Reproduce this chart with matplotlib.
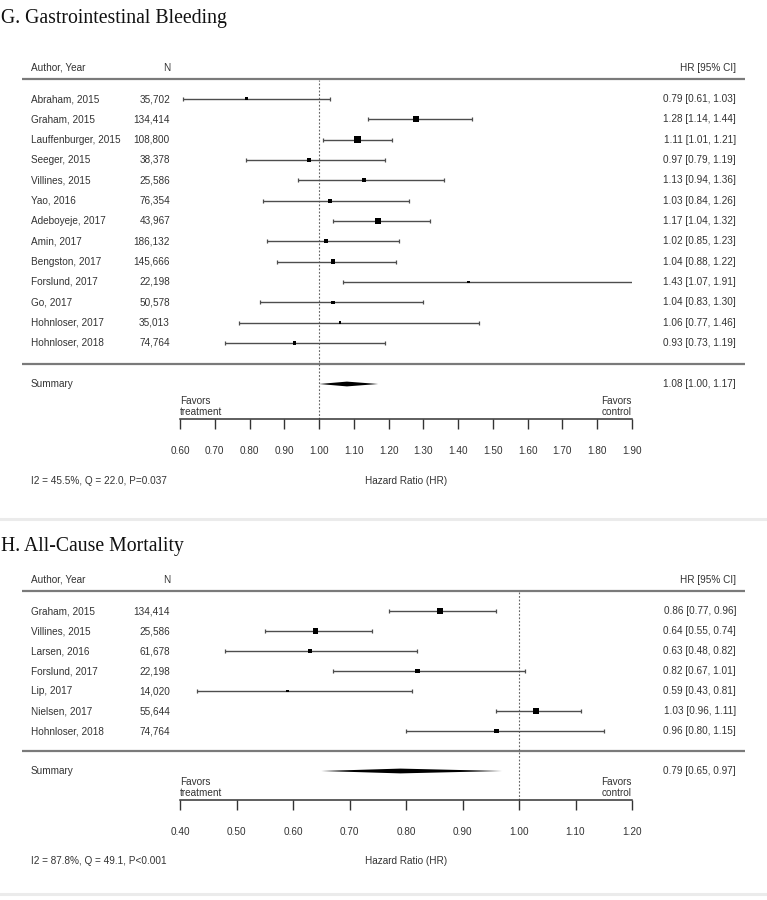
import matplotlib
matplotlib.use("Agg")
import matplotlib.pyplot as plt
import numpy as np

plt.rcParams['font.family'] = ['Liberation Sans', 'DejaVu Sans']

# ---------------- Data: G. Gastrointestinal Bleeding ----------------
g_authors = ["Abraham, 2015", "Graham, 2015", "Lauffenburger, 2015", "Seeger, 2015",
             "Villines, 2015", "Yao, 2016", "Adeboyeje, 2017", "Amin, 2017",
             "Bengston, 2017", "Forslund, 2017", "Go, 2017", "Hohnloser, 2017",
             "Hohnloser, 2018"]
g_n = ["35,702", "134,414", "108,800", "38,378", "25,586", "76,354", "43,967",
       "186,132", "145,666", "22,198", "50,578", "35,013", "74,764"]
g_hr = [0.79, 1.28, 1.11, 0.97, 1.13, 1.03, 1.17, 1.02, 1.04, 1.43, 1.04, 1.06, 0.93]
g_lo = [0.61, 1.14, 1.01, 0.79, 0.94, 0.84, 1.04, 0.85, 0.88, 1.07, 0.83, 0.77, 0.73]
g_hi = [1.03, 1.44, 1.21, 1.19, 1.36, 1.26, 1.32, 1.23, 1.22, 1.91, 1.30, 1.46, 1.19]
g_weight = [3.0, 6.0, 7.0, 4.0, 4.0, 4.0, 6.0, 4.0, 4.5, 2.8, 3.5, 2.5, 3.2]
g_summary = (1.08, 1.00, 1.17)
g_stats = "I2 = 45.5%, Q = 22.0, P=0.037"
g_ticks = [0.60, 0.70, 0.80, 0.90, 1.00, 1.10, 1.20, 1.30, 1.40, 1.50, 1.60, 1.70, 1.80, 1.90]

# ---------------- Data: H. All-Cause Mortality ----------------
h_authors = ["Graham, 2015", "Villines, 2015", "Larsen, 2016", "Forslund, 2017",
             "Lip, 2017", "Nielsen, 2017", "Hohnloser, 2018"]
h_n = ["134,414", "25,586", "61,678", "22,198", "14,020", "55,644", "74,764"]
h_hr = [0.86, 0.64, 0.63, 0.82, 0.59, 1.03, 0.96]
h_lo = [0.77, 0.55, 0.48, 0.67, 0.43, 0.96, 0.80]
h_hi = [0.96, 0.74, 0.82, 1.01, 0.81, 1.11, 1.15]
h_weight = [6.0, 5.5, 3.2, 4.5, 2.6, 6.5, 4.5]
h_summary = (0.79, 0.65, 0.97)
h_stats = "I2 = 87.8%, Q = 49.1, P<0.001"
h_ticks = [0.40, 0.50, 0.60, 0.70, 0.80, 0.90, 1.00, 1.10, 1.20]

W, H = 767, 900
fig = plt.figure(figsize=(W / 100, H / 100), dpi=100)
bg = fig.add_axes([0, 0, 1, 1])
bg.set_xlim(0, W)
bg.set_ylim(H, 0)
bg.axis('off')

TXT = '#333333'
FS = 7.2
PT = 0.72  # points per pixel


def panel(title, authors, ns, hr, lo, hi, weight, summ, stats, ticks, L):
    # title
    bg.text(1, L['title'], title, family='Liberation Serif', fontsize=14.2,
            color='#111111', va='center', ha='left')
    # header
    bg.text(31, L['header'], "Author, Year", fontsize=FS, color=TXT, va='center')
    bg.text(170, L['header'], "N", fontsize=FS, color=TXT, va='center', ha='right')
    bg.text(736, L['header'], "HR [95% CI]", fontsize=FS, color=TXT, va='center', ha='right')
    # separator lines
    for yl in (L['line1'], L['line2']):
        bg.plot([22, 745], [yl, yl], color='#7a7a7a', lw=1.6, solid_capstyle='butt')

    ys = [L['row0'] + i * L['dy'] for i in range(len(authors))]
    for y, a, n, h, l, u in zip(ys, authors, ns, hr, lo, hi):
        bg.text(31, y, a, fontsize=FS, color=TXT, va='center')
        bg.text(170, y, n, fontsize=FS, color=TXT, va='center', ha='right')
        bg.text(736, y, f"{h:.2f} [{l:.2f}, {u:.2f}]", fontsize=FS, color=TXT,
                va='center', ha='right')
    bg.text(31, L['summary'], "Summary", fontsize=FS, color=TXT, va='center')
    bg.text(736, L['summary'], f"{summ[0]:.2f} [{summ[1]:.2f}, {summ[2]:.2f}]",
            fontsize=FS, color=TXT, va='center', ha='right')
    bg.text(31, L['footer'], stats, fontsize=FS, color=TXT, va='center')
    bg.text(406, L['footer'], "Hazard Ratio (HR)", fontsize=FS, color=TXT,
            va='center', ha='center')
    # band
    bg.plot([0, W], [L['band'], L['band']], color='#ebebeb', lw=2.2)

    # forest axes
    x0, x1 = 180, 632
    ax = fig.add_axes([x0 / W, 1 - L['axis'] / H, (x1 - x0) / W,
                       (L['axis'] - L['line1'] - 1) / H])
    ax.set_xlim(ticks[0], ticks[-1])
    ax.set_ylim(L['axis'], L['line1'] + 1)
    ax.patch.set_alpha(0)
    for s in ('top', 'left', 'right'):
        ax.spines[s].set_visible(False)
    ax.spines['bottom'].set_color('#333333')
    ax.spines['bottom'].set_linewidth(1.1)
    ax.set_yticks([])
    ax.set_xticks(ticks)
    ax.set_xticklabels([f"{t:.2f}" for t in ticks])
    ax.tick_params(axis='x', direction='out', length=10 * PT, width=1.0,
                   color='#333333', labelsize=FS, labelcolor=TXT, pad=17 * PT)

    ax.axvline(1.0, color='#666666', lw=0.8, ls=(0, (1.6, 1.6)), zorder=1)

    ax.hlines(ys, lo, hi, color='#4d4d4d', lw=1.0, zorder=2)
    ax.plot(lo, ys, ls='none', marker='|', ms=3.8 * PT, mew=0.9, color='#4d4d4d')
    ax.plot(hi, ys, ls='none', marker='|', ms=3.8 * PT, mew=0.9, color='#4d4d4d')
    ax.scatter(hr, ys, marker='s', s=[(w * PT) ** 2 for w in weight],
               color='black', linewidths=0, zorder=3)

    ys_ = L['summary']
    est, sl, sh = summ
    hh = 2.4
    ax.fill([sl, est, sh, est], [ys_, ys_ - hh, ys_, ys_ + hh], color='black',
            lw=0, zorder=3)

    ax.text(ticks[0], L['fav1'], "Favors", fontsize=FS, color=TXT, va='center', ha='left')
    ax.text(ticks[0], L['fav2'], "treatment", fontsize=FS, color=TXT, va='center', ha='left')
    ax.text(ticks[-1], L['fav1'], "Favors", fontsize=FS, color=TXT, va='center', ha='right')
    ax.text(ticks[-1], L['fav2'], "control", fontsize=FS, color=TXT, va='center', ha='right')
    return ax


LG = dict(title=18, header=68, line1=79, row0=99, dy=20.33, line2=364, summary=384,
          fav1=401, fav2=412, axis=419, footer=481, band=519)
LH = dict(title=546, header=580, line1=591, row0=611, dy=20.0, line2=751, summary=771,
          fav1=782, fav2=793, axis=800, footer=861, band=894)

panel("G. Gastrointestinal Bleeding", g_authors, g_n, g_hr, g_lo, g_hi, g_weight,
      g_summary, g_stats, g_ticks, LG)
panel("H. All-Cause Mortality", h_authors, h_n, h_hr, h_lo, h_hi, h_weight,
      h_summary, h_stats, h_ticks, LH)

fig.savefig("out.png", dpi=100)
